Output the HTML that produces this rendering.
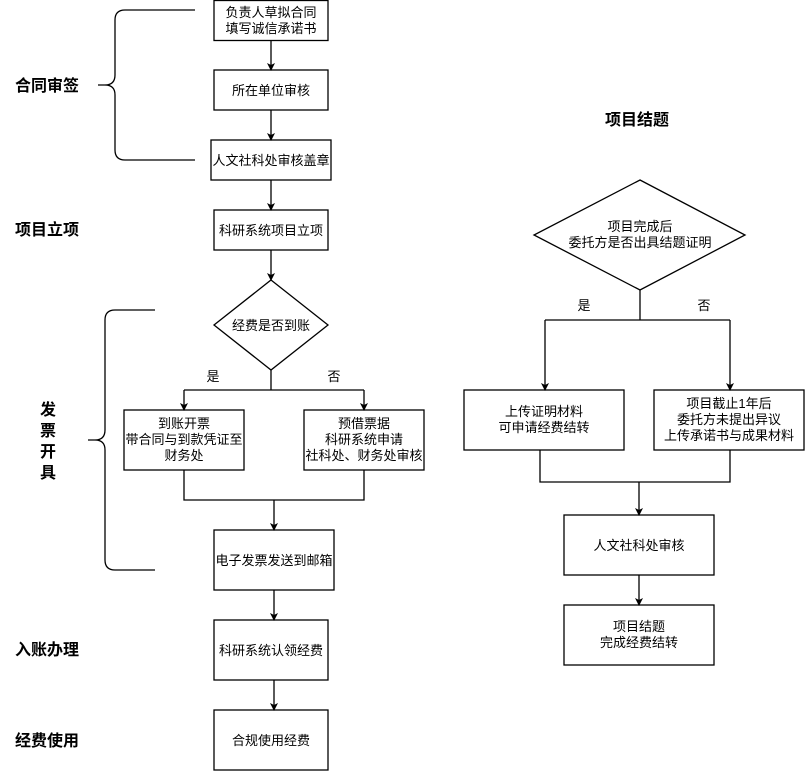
<!DOCTYPE html>
<html><head><meta charset="utf-8"><style>
html,body{margin:0;padding:0;background:#fff}
svg{display:block}
text{font-family:"Liberation Sans","Noto Sans CJK SC",sans-serif;font-size:13px;fill:#000}
.b{font-weight:bold;font-size:16px}
</style></head><body>
<svg width="805" height="771" viewBox="0 0 805 771" xmlns="http://www.w3.org/2000/svg">
<defs><marker id="a" markerWidth="8" markerHeight="8" refX="7" refY="4" orient="auto" markerUnits="userSpaceOnUse"><path d="M0,0 L8,4 L0,8 L2,4 z" fill="#000"/></marker></defs>
<g fill="none" stroke="#000" stroke-width="1.3">
<path d="M195,10 H125 Q115,10 115,20 V75 Q115,85 105,85 H98 M105,85 Q115,85 115,95 V150 Q115,160 125,160 H195"/>
<path d="M155,310 H115 Q105,310 105,320 V430 Q105,440 95,440 H88 M95,440 Q105,440 105,450 V560 Q105,570 115,570 H155"/>
<rect x="214" y="0.5" width="114" height="40"/>
<rect x="214" y="70" width="114" height="40"/>
<rect x="211" y="140" width="120" height="40"/>
<rect x="214" y="210" width="114" height="40"/>
<path d="M271,280 L328,325 L271,370 L214,325 Z"/>
<rect x="124" y="410" width="120" height="60"/>
<rect x="304" y="410" width="120" height="60"/>
<rect x="214" y="530" width="120" height="60"/>
<rect x="214" y="620" width="114" height="60"/>
<rect x="214" y="710" width="114" height="60"/>
<path d="M271,41 V70" marker-end="url(#a)"/>
<path d="M271,110 V140" marker-end="url(#a)"/>
<path d="M271,180 V210" marker-end="url(#a)"/>
<path d="M271,250 V280" marker-end="url(#a)"/>
<path d="M271,370 V390 M184,390 H364"/>
<path d="M184,390 V410" marker-end="url(#a)"/>
<path d="M364,390 V410" marker-end="url(#a)"/>
<path d="M184,470 V500 H364 V470"/>
<path d="M274,500 V530" marker-end="url(#a)"/>
<path d="M274,590 V620" marker-end="url(#a)"/>
<path d="M274,680 V710" marker-end="url(#a)"/>
<path d="M640,180 L745,235 L640,290 L534,235 Z"/>
<path d="M640,290 V320 M545,320 H730"/>
<path d="M545,320 V390" marker-end="url(#a)"/>
<path d="M730,320 V390" marker-end="url(#a)"/>
<rect x="464" y="390" width="160" height="60"/>
<rect x="654" y="390" width="150" height="60"/>
<path d="M540,450 V482 H730 V450"/>
<path d="M639,482 V515" marker-end="url(#a)"/>
<rect x="564" y="515" width="150" height="60"/>
<path d="M639,575 V605" marker-end="url(#a)"/>
<rect x="564" y="605" width="150" height="60"/>
</g>
<g text-anchor="middle">
<text x="271" y="17">负责人草拟合同</text>
<text x="271" y="33">填写诚信承诺书</text>
<text x="271" y="95">所在单位审核</text>
<text x="271" y="165">人文社科处审核盖章</text>
<text x="271" y="235">科研系统项目立项</text>
<text x="271" y="330">经费是否到账</text>
<text x="213" y="381">是</text>
<text x="334" y="381">否</text>
<text x="184" y="428">到账开票</text>
<text x="184" y="444">带合同与到款凭证至</text>
<text x="184" y="460">财务处</text>
<text x="364" y="428">预借票据</text>
<text x="364" y="444">科研系统申请</text>
<text x="364" y="460">社科处、财务处审核</text>
<text x="274" y="565">电子发票发送到邮箱</text>
<text x="271" y="655">科研系统认领经费</text>
<text x="271" y="745">合规使用经费</text>
<text x="640" y="231">项目完成后</text>
<text x="640" y="247">委托方是否出具结题证明</text>
<text x="584" y="310">是</text>
<text x="704" y="310">否</text>
<text x="544" y="416">上传证明材料</text>
<text x="544" y="432">可申请经费结转</text>
<text x="729" y="408">项目截止1年后</text>
<text x="729" y="424">委托方未提出异议</text>
<text x="729" y="440">上传承诺书与成果材料</text>
<text x="639" y="550">人文社科处审核</text>
<text x="639" y="631">项目结题</text>
<text x="639" y="647">完成经费结转</text>
<text class="b" x="48" y="415">发</text>
<text class="b" x="48" y="436">票</text>
<text class="b" x="48" y="457">开</text>
<text class="b" x="48" y="478">具</text>
</g>
<text class="b" x="15" y="91">合同审签</text>
<text class="b" x="15" y="235">项目立项</text>
<text class="b" x="15" y="655">入账办理</text>
<text class="b" x="15" y="746">经费使用</text>
<text class="b" x="605" y="125">项目结题</text>
</svg>
</body></html>
